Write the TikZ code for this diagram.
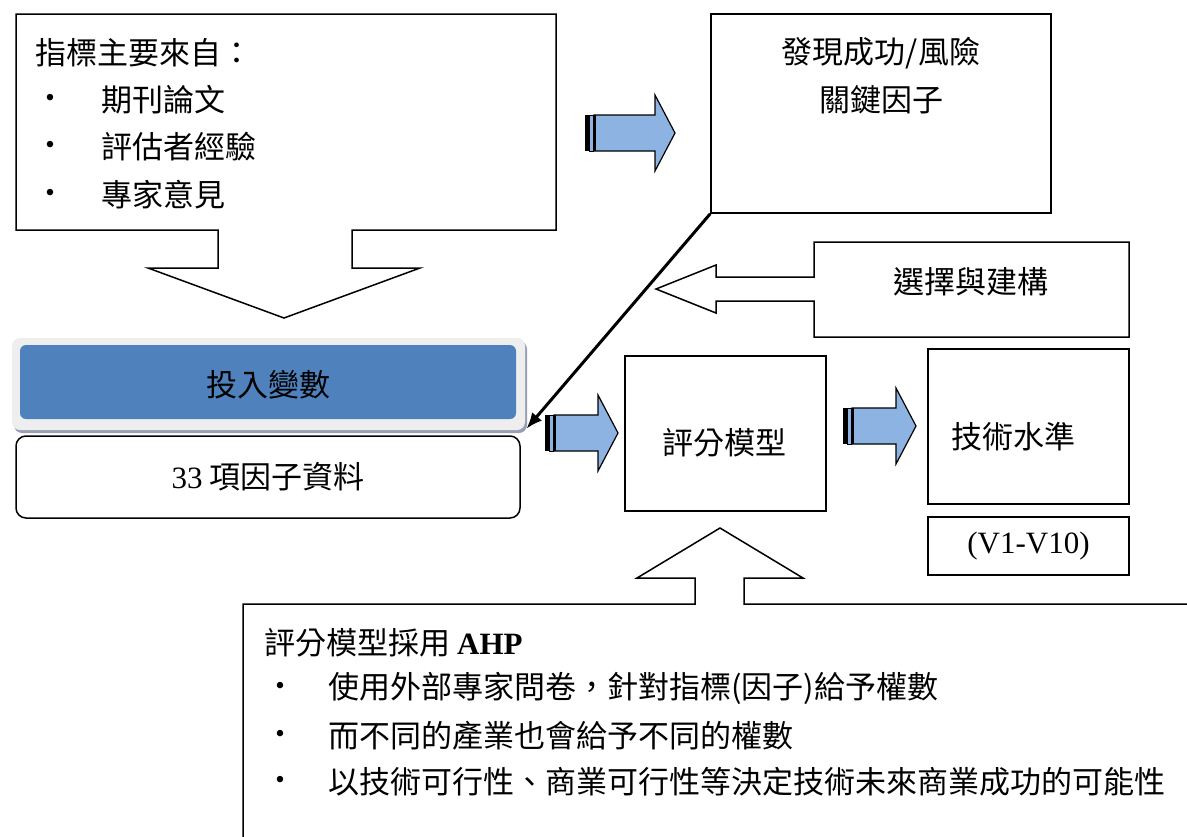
\documentclass[tikz,border=0pt]{standalone}
\usepackage{fontspec}
\setmainfont{Liberation Serif}
\newfontfamily\cjk{Noto Sans CJK TC}
\usepackage{tikz}
\usetikzlibrary{arrows.meta,positioning,shadows}

\definecolor{arrowblue}{RGB}{141,179,226}
\definecolor{boxblue}{RGB}{79,129,189}
\definecolor{framegray}{RGB}{238,238,238}
\definecolor{shadegray}{RGB}{150,160,178}

\begin{document}
\begin{tikzpicture}[
  x=1pt, y=-1pt,
  font=\cjk\fontsize{31}{37}\selectfont,
  plainbox/.style={draw, line width=1.5pt, inner sep=0pt},
  callout/.style={draw, line width=1.5pt, line join=miter},
  txt/.style={inner sep=0pt},
  bul/.style={inner sep=0pt, font=\rmfamily\fontsize{27}{30}\selectfont},
  varframe/.style={
    rounded corners=8pt, fill=framegray, inner sep=0pt,
    drop shadow={shadow xshift=2pt, shadow yshift=-3pt, fill=shadegray, opacity=1}
  },
  plate/.style={rounded corners=6pt, fill=boxblue, inner sep=0pt},
  databox/.style={draw, line width=1.5pt, rounded corners=10pt, inner sep=0pt},
  diag/.style={-{Latex[length=16pt, width=13pt]}, line width=3pt, shorten >=2pt},
  pics/stripearrow/.style={code={
    \fill (0,-18) rectangle (4,18);
    \draw[fill=arrowblue, line width=0.8pt] (4,-18) rectangle (8,18);
    \draw[fill=arrowblue, line width=1.2pt, line join=miter]
      (9,-18) -- (#1-20,-18) -- (#1-20,-38) -- (#1,0) -- (#1-20,38) -- (#1-20,18) -- (9,18) -- cycle;
    \draw[line width=2.5pt] (9.5,-18) -- (9.5,18);
  }}
]
\useasboundingbox (0,0) rectangle (1187,836);
\clip (0,0) rectangle (1187,836);

% where the indicators come from
\draw[callout] (16,14) -- (556,14) -- (556,230) -- (352,230) -- (352,268) -- (420,268)
  -- (284,318) -- (148,268) -- (218,268) -- (218,230) -- (16,230) -- cycle;
\node[txt, anchor=west] (srcT) at (35,53) {指標主要來自：};
\foreach \y/\lbl [count=\i] in {100/{期刊論文}, 147/{評估者經驗}, 195/{專家意見}} {
  \node[bul] (srcB\i) at (50,\y) {\textbullet};
  \node[txt, anchor=west] (srcI\i) at (101,\y) {\lbl};
}

% key factors
\node[plainbox, minimum width=340pt, minimum height=199pt] (disc) at (881,113.5) {};
\node[txt] (discA) at (881,53) {發現成功/風險};
\node[txt] (discB) at (881,100) {關鍵因子};

\draw[callout] (1129,242) -- (1129,337) -- (814,337) -- (814,301) -- (716,301) -- (716,313)
  -- (656,289) -- (716,265) -- (716,277) -- (814,277) -- (814,242) -- cycle;
\node[txt] (selT) at (971,282) {選擇與建構};

% input variables
\node[varframe, minimum width=513pt, minimum height=92pt] (invar) at (268.5,384) {};
\node[plate, minimum width=496pt, minimum height=74pt] (plate) at (268,382) {};
\node[txt] (invarT) at (268,385) {投入變數};
\node[databox, minimum width=504pt, minimum height=82pt] (data) at (268,477) {{\rmfamily 33} 項因子資料};

% model and result
\node[plainbox, minimum width=201pt, minimum height=155pt] (score) at (725.5,433.5) {};
\node[txt] (scoreT) at (724,443) {評分模型};
\node[plainbox, minimum width=201pt, minimum height=155pt] (tech) at (1028.5,426.5) {};
\node[txt] (techT) at (1013,437) {技術水準};
\node[plainbox, minimum width=201pt, minimum height=58pt] (vr) at (1028.5,546) {\rmfamily (V1-V10)};

% AHP note
\draw[callout] (243,850) -- (243,604) -- (695,604) -- (695,578) -- (637,578) -- (720,528)
  -- (803,578) -- (744,578) -- (744,604) -- (1200,604);
\node[txt, anchor=west] (ahpT) at (264,643) {評分模型採用 {\rmfamily\bfseries AHP}};
\foreach \y/\lbl [count=\i] in {688/{使用外部專家問卷，針對指標(因子)給予權數},
    736/{而不同的產業也會給予不同的權數},
    782/{以技術可行性、商業可行性等決定技術未來商業成功的可能性}} {
  \node[bul] (ahpB\i) at (280,\y) {\textbullet};
  \node[txt, anchor=west] (ahpI\i) at (328,\y) {\lbl};
}

\pic at (585,133) {stripearrow=90};
\pic at (545,433) {stripearrow=73};
\pic at (843,426) {stripearrow=73};

\draw[diag] (disc.south west) -- (invar.south east);
\end{tikzpicture}
\end{document}
